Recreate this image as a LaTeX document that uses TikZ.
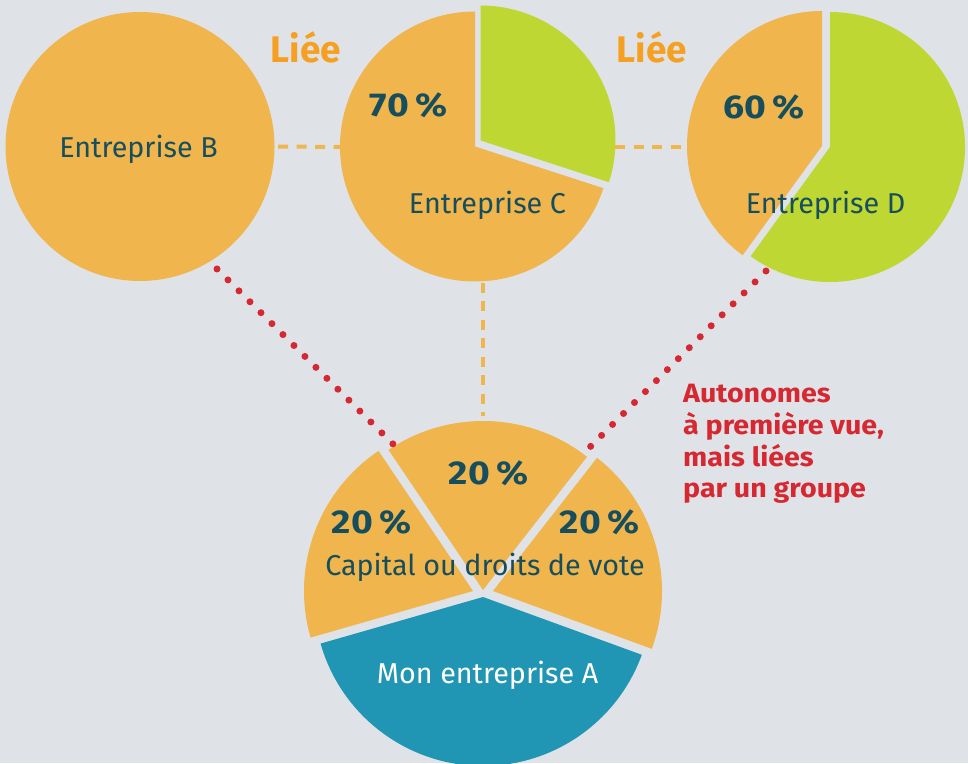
\documentclass[tikz,border=0pt]{standalone}
\usepackage{graphicx}
\usepackage{fontspec}
\setmainfont{Fira Sans}
\definecolor{bg}{RGB}{223,227,232}
\definecolor{pieor}{RGB}{240,181,76}
\definecolor{piegr}{RGB}{190,215,50}
\definecolor{pieblue}{RGB}{32,150,180}
\definecolor{tealtxt}{RGB}{22,78,94}
\definecolor{dotred}{RGB}{213,40,48}
\definecolor{lieor}{RGB}{245,160,32}
\newcommand{\pcttext}[1]{\scalebox{1.13}[1]{#1\,\%}}
\newcommand{\redline}[1]{\scalebox{1.08}[1]{#1}}
\begin{document}
\begin{tikzpicture}[x=1pt,y=1pt,
  lbl/.style={font=\fontsize{28.7}{30}\selectfont, text=tealtxt, anchor=base, inner sep=0},
  pct/.style={font=\bfseries\fontsize{33}{33}\selectfont, text=tealtxt, anchor=base, inner sep=0},
  lie/.style={font=\bfseries\fontsize{37}{37}\selectfont, text=lieor, anchor=base, inner sep=0},
  redtxt/.style={font=\bfseries\fontsize{26.5}{26.5}\selectfont, text=dotred, anchor=base west, inner sep=0},
  dashline/.style={draw=pieor, line width=4pt, dash pattern=on 10pt off 8.5pt},
  dotline/.style={draw=dotred, line width=7pt, line cap=round, dash pattern=on 0pt off 15.5pt}]
\fill[bg] (0,0) rectangle (968,763);
\useasboundingbox (0,0) rectangle (968,763);
\clip (0,0) rectangle (968,763);

% Entreprise B
\node[circle, fill=pieor, minimum size=269pt, inner sep=0] (B) at (140,616.5) {};
% Entreprise C
\fill[pieor] (475,616.5) -- ++(90:135) arc[start angle=90, end angle=342, radius=135] -- cycle;
\fill[piegr] (480.5,622.5) -- ++(-18:135) arc[start angle=-18, end angle=90, radius=135] -- cycle;
% Entreprise D
\fill[pieor] (822,617) -- ++(90:135) arc[start angle=90, end angle=234, radius=135] -- cycle;
\fill[piegr] (830,616) -- ++(234:135) arc[start angle=234, end angle=450, radius=135] -- cycle;
% Mon entreprise A
\fill[pieblue] (483,166) -- ++(196:169) arc[start angle=196, end angle=340, radius=169] -- cycle;
\fill[pieor] (493,172) -- ++(-20:169) arc[start angle=-20, end angle=52, radius=169] -- cycle;
\fill[pieor] (483,173) -- ++(52:169) arc[start angle=52, end angle=124, radius=169] -- cycle;
\fill[pieor] (473,172) -- ++(124:169) arc[start angle=124, end angle=196, radius=169] -- cycle;

% connector end points
\coordinate (Cw) at (340,616);
\coordinate (Ce) at (615,616);
\coordinate (Dw) at (688,616);
\coordinate (Cs) at (483,480);
\coordinate (An) at (483,347);
\coordinate (Bd) at (217,494);
\coordinate (Abd) at (393,319);
\coordinate (Dd) at (766,492);
\coordinate (Add) at (590,316);

\draw[dashline, shorten <=3.5pt] (B.east) -- (Cw);
\draw[dashline] (Ce) -- (Dw);
\draw[dashline] (Cs) -- (An);
\draw[dotline] (Bd) -- (Abd);
\draw[dotline] (Dd) -- (Add);

% texts
\node[lbl] (tB) at (138.5,605) {Entreprise B};
\node[lbl] (tC) at (487.5,549) {Entreprise C};
\node[lbl] (tD) at (825.5,549) {Entreprise D};
\node[lbl] (tCap) at (485,188) {Capital ou droits de vote};
\node[lbl, text=white] (tA) at (487.5,80) {Mon entreprise A};
\node[pct] (p70) at (408.5,646) {\pcttext{70}};
\node[pct] (p60) at (764,644) {\pcttext{60}};
\node[pct] (p20m) at (488.5,278) {\pcttext{20}};
\node[pct] (p20l) at (371.5,229) {\pcttext{20}};
\node[pct] (p20r) at (599.5,229) {\pcttext{20}};
\node[lie] (l1) at (306,700) {Liée};
\node[lie] (l2) at (652,700) {Liée};
\node[redtxt] (r1) at (683,360) {\redline{Autonomes}};
\node[redtxt] (r2) at (683,328) {\redline{à première vue,}};
\node[redtxt] (r3) at (683,296) {\redline{mais liées}};
\node[redtxt] (r4) at (683,265) {\redline{par un groupe}};
\end{tikzpicture}
\end{document}
